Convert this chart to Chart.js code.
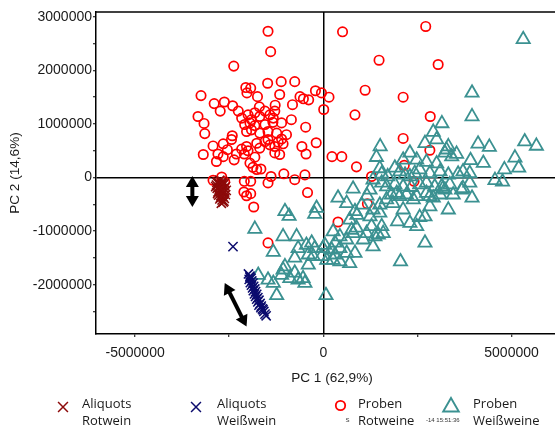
<!DOCTYPE html>
<html><head><meta charset="utf-8">
<script src="https://cdn.jsdelivr.net/npm/chart.js@4.4.1/dist/chart.umd.min.js"></script>
<style>
html,body{margin:0;padding:0;background:#fff;overflow:hidden;}
#wrap{position:relative;width:555px;height:426px;overflow:hidden;background:#fff;}
canvas{display:block;}
</style></head><body>
<div id="wrap"><canvas id="c" width="600" height="426"></canvas></div>
<script>
// ---- data (values in units of 1,000,000) ----
const xAxisTitle = 'PC 1 (62,9%)';
const yAxisTitle = 'PC 2 (14,6%)';
const seriesLabels = ['Aliquots\nRotwein', 'Aliquots\nWeißwein', 'Proben\nRotweine', 'Proben\nWeißweine'];
const xTickLabels = [-5, 0, 5];          // labelled x ticks (×1e6)
const yTickLabels = [-2, -1, 0, 1, 2, 3]; // labelled y ticks (×1e6)

const aliquotsRotwein = [
[-2.80,-0.08],[-2.75,-0.05],[-2.68,-0.07],[-2.62,-0.10],[-2.84,-0.14],[-2.78,-0.12],[-2.72,-0.15],[-2.65,-0.13],
[-2.60,-0.17],[-2.82,-0.20],[-2.76,-0.19],[-2.70,-0.22],[-2.64,-0.20],[-2.58,-0.24],[-2.80,-0.27],[-2.74,-0.26],
[-2.68,-0.29],[-2.62,-0.27],[-2.78,-0.33],[-2.72,-0.34],[-2.66,-0.36],[-2.60,-0.32],[-2.75,-0.40],[-2.69,-0.42],
[-2.64,-0.44],[-2.71,-0.48],[-2.66,-0.46],[-2.83,-0.09],[-2.86,-0.17],[-2.63,-0.39],[-2.77,-0.23],[-2.69,-0.11],
[-2.73,-0.37],[-2.81,-0.30],[-2.67,-0.25]
];
const aliquotsWeisswein = [
[-2.40,-1.29],
[-1.99,-1.80],[-1.95,-1.84],[-1.92,-1.88],[-1.97,-1.90],[-1.90,-1.93],[-1.94,-1.96],[-1.87,-1.97],[-1.91,-2.01],
[-1.85,-2.03],[-1.88,-2.06],[-1.82,-2.08],[-1.86,-2.11],[-1.80,-2.13],[-1.83,-2.17],[-1.77,-2.18],[-1.80,-2.22],
[-1.74,-2.24],[-1.77,-2.27],[-1.71,-2.29],[-1.74,-2.32],[-1.68,-2.35],[-1.71,-2.38],[-1.65,-2.40],[-1.62,-2.45],
[-1.66,-2.43],[-1.58,-2.50],[-1.55,-2.55],[-1.52,-2.58],[-1.60,-2.47],[-1.95,-1.86]
];
const probenRotweine = [
[-1.47,2.73],[-1.40,2.35],[0.51,2.72],[2.72,2.82],[1.48,2.19],[3.05,2.11],[1.11,1.63],[2.12,1.50],[-0.21,1.62],
[-0.05,1.58],[0.15,1.50],[0.01,1.27],[0.84,1.17],[2.84,1.14],[-0.47,0.94],[-0.19,0.65],[-0.57,0.58],[-0.46,0.44],
[0.23,0.39],[0.49,0.39],[2.12,0.73],[2.83,0.51],[0.88,0.20],[-0.49,0.05],[1.28,0.02],[2.15,0.23],[2.41,-0.07],
[-0.42,-0.28],[0.39,-0.83],[1.17,-0.49],[-1.47,-1.22],[-1.85,-0.55],[-1.93,-0.30],[-2.04,-0.34],[-2.11,-0.27],
[-1.93,-0.07],[-2.10,-0.07],[-2.93,-0.05],[-2.70,0.01],[-2.62,-0.08],[-1.39,0.02],[-1.47,-0.10],[-1.05,0.07],
[-0.76,-0.04],[-1.95,0.27],[-1.87,0.19],[-1.77,0.15],[-1.66,0.16],[-1.82,0.38],[-3.19,0.43],[-2.80,0.44],
[-2.84,0.30],[-2.66,0.39],[-2.37,0.33],[-2.31,0.44],[-2.17,0.53],[-2.04,0.58],[-2.10,0.44],[-2.00,0.50],
[-2.93,0.59],[-2.66,0.63],[-2.55,0.52],[-2.42,0.78],[-2.44,0.71],[-3.17,1.01],[-3.15,0.82],[-1.77,0.64],
[-1.69,0.55],[-1.55,0.67],[-1.42,0.61],[-1.29,0.58],[-1.20,0.66],[-1.07,0.63],[-0.98,0.80],[-1.11,0.72],
[-1.29,0.46],[-1.16,0.43],[-1.47,0.71],[-2.09,0.99],[-1.95,1.02],[-1.82,0.97],[-1.55,0.99],[-1.34,1.03],
[-1.11,1.02],[-0.85,1.08],[-2.04,0.86],[-1.91,0.89],[-1.69,0.83],[-1.47,0.86],[-1.24,0.83],[-2.38,2.08],
[-1.48,1.76],[-1.12,1.79],[-0.76,1.79],[-2.06,1.68],[-1.93,1.67],[-2.03,1.58],[-1.75,1.51],[-1.16,1.55],
[-3.25,1.53],[-2.90,1.38],[-2.63,1.41],[-2.74,1.24],[-2.41,1.34],[-2.26,1.24],[-1.70,1.32],[-1.28,1.35],
[-0.82,1.36],[-0.62,1.51],[-0.53,1.47],[-0.39,1.45],[-3.33,1.14],[-2.17,1.11],[-2.00,1.17],[-1.82,1.21],
[-1.69,1.14],[-1.55,1.24],[-1.42,1.17],[-1.29,1.24],[-1.33,1.11],[-1.91,1.08]
];
const probenWeissweine = [
[5.31,2.58],[3.95,1.58],[3.95,1.14],[3.15,1.01],[2.92,0.85],[3.01,0.71],[2.70,0.64],[3.32,0.58],[3.54,0.44],
[3.23,0.46],[4.11,0.63],[4.41,0.57],[5.35,0.67],[5.66,0.59],[3.91,0.32],[4.25,0.27],[5.09,0.37],[5.19,0.18],
[4.81,0.15],[4.56,-0.05],[4.76,-0.08],[3.89,0.08],[3.71,0.11],[3.58,0.07],[3.32,0.05],[3.89,-0.10],[3.67,-0.23],
[3.45,-0.32],[3.23,-0.23],[3.14,-0.17],[3.36,-0.13],[3.95,-0.38],[3.32,-0.60],[1.51,0.58],[1.41,0.38],[2.30,0.46],
[2.12,0.33],[2.48,0.33],[2.74,0.29],[3.01,0.26],[3.27,0.52],[3.41,0.39],[1.50,0.17],[1.55,0.07],[2.03,0.11],
[2.17,0.05],[2.30,0.02],[2.43,0.08],[2.56,0.15],[2.83,0.08],[3.10,0.11],[1.32,-0.04],[1.55,-0.10],[1.90,-0.13],
[2.12,-0.17],[2.34,-0.18],[2.56,-0.13],[2.74,-0.10],[2.96,-0.17],[3.18,-0.20],[0.79,-0.21],[1.24,-0.23],
[0.39,-0.38],[1.81,-0.32],[2.03,-0.35],[2.48,-0.35],[2.83,-0.35],[-1.82,-0.96],[-1.02,-0.63],[-0.91,-0.72],
[-0.18,-0.57],[-0.23,-0.68],[0.62,-0.48],[0.84,-0.63],[0.70,-0.79],[0.26,-1.01],[0.44,-1.10],[0.31,-1.22],
[0.62,-1.16],[0.79,-1.04],[0.88,-0.94],[1.06,-1.16],[1.15,-1.04],[1.28,-0.91],[1.37,-1.10],[1.24,-0.73],
[1.32,-0.60],[1.50,-0.66],[1.55,-0.91],[1.59,-1.04],[1.46,-1.07],[1.32,-1.29],[1.97,-0.82],[2.30,-0.85],
[2.48,-0.91],[2.56,-0.74],[2.70,-1.22],[2.05,-1.57],[1.50,-0.51],[1.68,-0.41],[1.85,-0.48],[2.21,-0.32],
[2.39,-0.41],[2.74,-0.29],[2.92,-0.38],[3.10,-0.32],[2.12,-0.60],[2.83,-0.54],[-1.07,-1.10],[-0.71,-1.10],
[-0.67,-1.32],[-0.45,-1.26],[-0.31,-1.22],[-0.23,-1.32],[-0.40,-1.44],[-0.76,-1.50],[-0.27,-1.47],[-0.05,-1.47],
[0.04,-1.26],[-0.01,-1.32],[0.09,-1.54],[0.22,-1.35],[0.31,-1.44],[0.44,-1.32],[0.62,-1.41],[0.84,-1.41],
[0.26,-1.54],[0.44,-1.57],[0.70,-1.60],[-1.33,-1.39],[-1.02,-1.66],[-1.11,-1.82],[-0.89,-1.88],[-0.76,-1.78],
[-0.67,-1.91],[-0.54,-1.88],[-0.49,-1.97],[-0.40,-1.63],[-1.07,-1.72],[-1.73,-1.82],[-1.47,-1.91],[-1.33,-1.97],
[-1.24,-2.20],[0.07,-2.20],[0.75,-0.98],[3.71,-0.20],[2.70,-0.73],[1.95,-0.29],[1.68,-0.17],[1.71,0.02],
[1.90,0.18],[1.02,-0.51],[1.16,-0.34],[0.89,-0.70]
];
// annotation arrows [x1,y1,x2,y2] in data units
const arrows = [
  [-3.48, 0.03, -3.48, -0.55],
  [-2.62, -1.97, -2.04, -2.78]
];

// ---- styles ----
const C_RED_X = '#8c0a0a', C_BLUE_X = '#0c0c6e', C_RED = '#ff0000', C_TEAL = '#3b9191';
const toPts = a => a.map(([x, y]) => ({x, y}));
const tickFont = {family: '"Liberation Sans", Arial, Helvetica, sans-serif', size: 14};
const titleFont = {family: '"Liberation Sans", Arial, Helvetica, sans-serif', size: 13.6};

function dblArrow(ctx, x1, y1, x2, y2) {
  const dx = x2 - x1, dy = y2 - y1, L = Math.hypot(dx, dy);
  const ux = dx / L, uy = dy / L, px = -uy, py = ux;
  const hl = 11, hw = 6.5;
  ctx.lineWidth = 4; ctx.strokeStyle = '#000'; ctx.fillStyle = '#000';
  ctx.beginPath();
  ctx.moveTo(x1 + ux * hl * 0.8, y1 + uy * hl * 0.8);
  ctx.lineTo(x2 - ux * hl * 0.8, y2 - uy * hl * 0.8);
  ctx.stroke();
  [[x1, y1, 1], [x2, y2, -1]].forEach(([tx, ty, s]) => {
    const bx = tx + s * ux * hl, by = ty + s * uy * hl;
    ctx.beginPath();
    ctx.moveTo(tx, ty);
    ctx.lineTo(bx + px * hw, by + py * hw);
    ctx.lineTo(bx - px * hw, by - py * hw);
    ctx.closePath(); ctx.fill();
  });
}

function marker(ctx, style, color, cx, cy, r, lw) {
  ctx.save();
  ctx.strokeStyle = color; ctx.lineWidth = lw;
  ctx.beginPath();
  if (style === 'crossRot') {
    const o = r * Math.SQRT1_2;
    ctx.moveTo(cx - o, cy - o); ctx.lineTo(cx + o, cy + o);
    ctx.moveTo(cx + o, cy - o); ctx.lineTo(cx - o, cy + o);
  } else if (style === 'circle') {
    ctx.arc(cx, cy, r, 0, Math.PI * 2);
  } else if (style === 'triangle') {
    for (let k = 0; k < 3; k++) {
      const a = k * 2 * Math.PI / 3;
      const X = cx + Math.sin(a) * r, Y = cy - Math.cos(a) * r;
      k ? ctx.lineTo(X, Y) : ctx.moveTo(X, Y);
    }
    ctx.closePath();
  }
  ctx.stroke();
  ctx.restore();
}

const legendLayout = [
  {mx: 63, my: 407, tx: 82, r: 7, lw: 1.5},
  {mx: 196, my: 407, tx: 217, r: 7, lw: 1.5},
  {mx: 340.5, my: 405.5, tx: 358, r: 4.7, lw: 1.8},
  {mx: 451, my: 407, tx: 473, r: 9, lw: 1.9}
];
const legendLineY = [407.5, 425];

const overlay = {
  id: 'overlay',
  afterDatasetsDraw(chart) {
    const {ctx, chartArea: a, scales: {x, y}} = chart;
    ctx.save();
    ctx.strokeStyle = '#000'; ctx.lineWidth = 1.5;
    ctx.beginPath(); ctx.moveTo(a.left, a.top); ctx.lineTo(a.right, a.top); ctx.stroke();
    arrows.forEach(([x1, y1, x2, y2]) =>
      dblArrow(ctx, x.getPixelForValue(x1), y.getPixelForValue(y1), x.getPixelForValue(x2), y.getPixelForValue(y2)));
    ctx.restore();
  },
  afterDraw(chart) {
    const ctx = chart.ctx;
    ctx.save();
    chart.data.datasets.forEach((ds, i) => {
      const L = legendLayout[i];
      marker(ctx, ds.pointStyle, ds.pointBorderColor, L.mx, L.my, L.r, L.lw);
      ctx.fillStyle = '#1a1a1a';
      ctx.font = '13px "Open Sans", sans-serif';
      ctx.textBaseline = 'alphabetic';
      ctx.textAlign = 'left';
      const lines = ds.label.split('\n');
      ctx.fillText(lines[0], L.tx, legendLineY[0]);
      ctx.fillText(lines[1], L.tx, legendLineY[1]);
    });
    // small stray texts printed in the original
    ctx.fillStyle = '#333';
    ctx.font = '6px "Liberation Sans", Arial, sans-serif';
    ctx.fillText('S', 345.5, 422);
    ctx.fillText('-14 15:51:36', 426, 422);
    ctx.restore();
  }
};

const axisCommon = (extra) => Object.assign({
  type: 'linear',
  border: {display: true, color: '#000', width: 1.5},
  grid: {
    drawOnChartArea: true,
    color: c => (c.tick && c.tick.value === 0) ? '#000' : 'rgba(0,0,0,0)',
    lineWidth: 1.5,
    tickColor: '#000', tickLength: 3, tickWidth: 1
  }
}, extra);

new Chart(document.getElementById('c'), {
  type: 'scatter',
  data: {
    datasets: [
      {label: seriesLabels[0], data: toPts(aliquotsRotwein), pointStyle: 'crossRot', pointRadius: 6.5,
       pointBorderColor: C_RED_X, pointBackgroundColor: 'rgba(0,0,0,0)', pointBorderWidth: 1.5, order: 0},
      {label: seriesLabels[1], data: toPts(aliquotsWeisswein), pointStyle: 'crossRot', pointRadius: 6.5,
       pointBorderColor: C_BLUE_X, pointBackgroundColor: 'rgba(0,0,0,0)', pointBorderWidth: 1.5, order: 1},
      {label: seriesLabels[2], data: toPts(probenRotweine), pointStyle: 'circle', pointRadius: 4.7,
       pointBorderColor: C_RED, pointBackgroundColor: 'rgba(0,0,0,0)', pointBorderWidth: 1.7, order: 3},
      {label: seriesLabels[3], data: toPts(probenWeissweine), pointStyle: 'triangle', pointRadius: 7.6,
       pointBorderColor: C_TEAL, pointBackgroundColor: 'rgba(0,0,0,0)', pointBorderWidth: 1.8, order: 2}
    ]
  },
  options: {
    responsive: false,
    animation: false,
    events: [],
    layout: {padding: {left: 0, right: 32, top: 12, bottom: 32}},
    plugins: {legend: {display: false}, tooltip: {enabled: false}},
    scales: {
      x: axisCommon({
        min: -6.04, max: 6.5,
        afterFit(s) { s.height = 60; },
        ticks: {
          stepSize: 2.5, includeBounds: false, autoSkip: false, maxRotation: 0, padding: 8,
          color: '#1a1a1a', font: tickFont,
          callback: v => xTickLabels.includes(v) ? String(Math.round(v * 1000000)) : ''
        },
        title: {display: true, text: xAxisTitle, color: '#1a1a1a', font: titleFont, padding: {top: 0, bottom: 8}}
      }),
      y: axisCommon({
        min: -2.92, max: 3.09,
        afterFit(s) { s.width = 96; },
        ticks: {
          stepSize: 0.5, includeBounds: false, autoSkip: false, padding: 1,
          color: '#1a1a1a', font: tickFont,
          callback: v => yTickLabels.includes(v) ? String(Math.round(v * 1000000)) : ''
        },
        title: {display: true, text: yAxisTitle, color: '#1a1a1a', font: titleFont, padding: {top: 7, bottom: 0}}
      })
    }
  },
  plugins: [overlay]
});
</script>
</body></html>
